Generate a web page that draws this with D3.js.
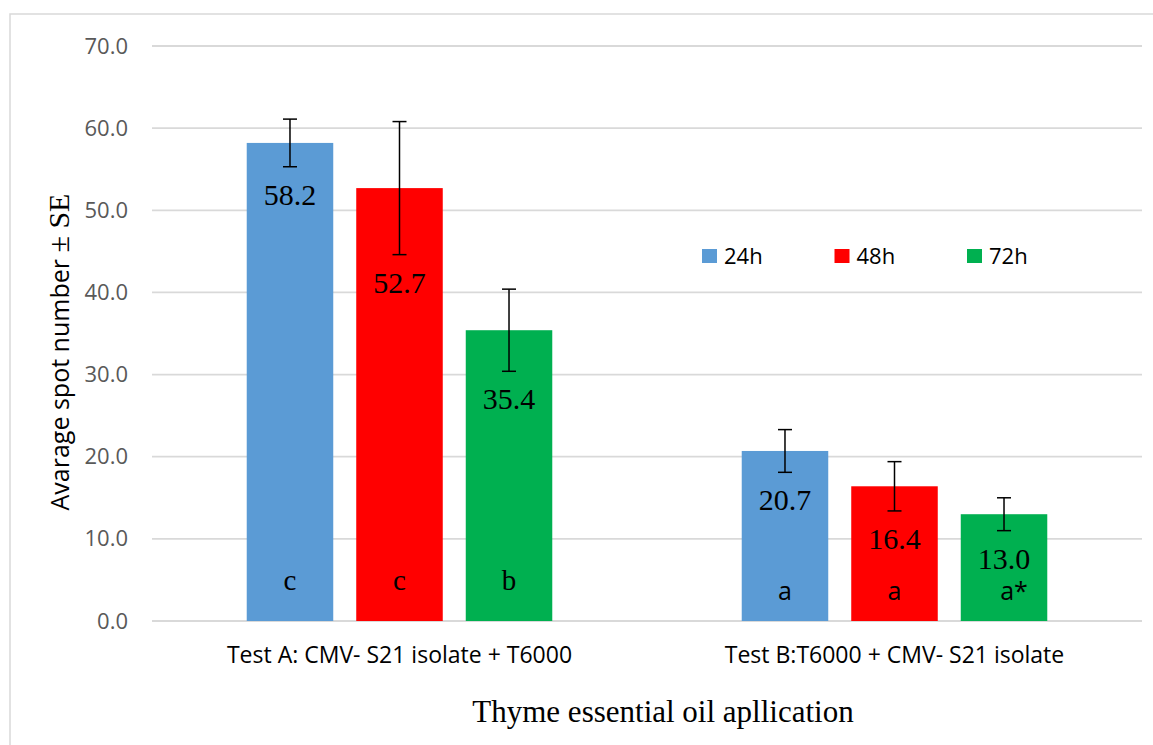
<!DOCTYPE html>
<meta charset="utf-8">
<style>
body{ margin:0; background:#fff; }
.grid line{ stroke:#d9d9d9; stroke-width:1.8px; }
.yaxis text{ font-family:"Open Sans"; font-size:22px; fill:#595959; }
.cat{ font-family:"Open Sans"; font-size:23px; fill:#000; text-anchor:middle; }
.val{ font-family:"Liberation Serif"; font-size:30px; fill:#000; text-anchor:middle; }
.err line{ stroke:#000; stroke-width:1.5px; }
.legend text{ font-family:"Open Sans"; font-size:22px; fill:#000; }
</style>
<body>
<div id="chart"></div>
<script src="https://d3js.org/d3.v7.min.js"></script>
<script>
// data
var groups = ["Test A: CMV- S21 isolate + T6000", "Test B:T6000 + CMV- S21 isolate"];
var series = ["24h", "48h", "72h"];
var colors = ["#5b9bd5", "#ff0000", "#00b050"];
var means = [[58.2, 52.7, 35.4], [20.7, 16.4, 13.0]];
var se = [[2.9, 8.1, 5.0], [2.6, 3.0, 2.0]];
var letters = [["c", "c", "b"], ["a", "a", "a*"]];
var yTicks = [0, 10, 20, 30, 40, 50, 60, 70];

var W = 1153, H = 745;
var plotL = 152, plotR = 1142, plotT = 46, plotB = 621;

var svg = d3.select("#chart").append("svg").attr("width", W).attr("height", H);

// chart area border
svg.append("rect").attr("x", 10).attr("y", 14).attr("width", 1160).attr("height", 760)
    .attr("fill", "none").attr("stroke", "#d9d9d9").attr("stroke-width", 1.5);

var y = d3.scaleLinear().domain([0, 70]).range([plotB, plotT]);
var x0 = d3.scaleBand().domain(groups).range([plotL, plotR]);
var x1 = d3.scaleBand().domain(series).range([0, x0.bandwidth()])
    .paddingInner(0.21).paddingOuter(0.865);

svg.append("g").attr("class", "grid").selectAll("line").data(yTicks).join("line")
    .attr("x1", plotL).attr("x2", plotR)
    .attr("y1", d => y(d)).attr("y2", d => y(d));

var yAxis = svg.append("g").attr("class", "yaxis").attr("transform", "translate(128,0)")
    .call(d3.axisLeft(y).tickValues(yTicks).tickFormat(d3.format(".1f")).tickSize(0).tickPadding(0));
yAxis.select(".domain").remove();

// bars
var cells = [];
groups.forEach(function(g, gi){
    series.forEach(function(s, si){
        cells.push({g: g, gi: gi, s: s, si: si, v: means[gi][si], e: se[gi][si], l: letters[gi][si]});
    });
});

var cell = svg.append("g").selectAll("g").data(cells).join("g")
    .attr("transform", d => "translate(" + (x0(d.g) + x1(d.s)) + ",0)");

cell.append("rect")
    .attr("y", d => y(d.v))
    .attr("width", x1.bandwidth())
    .attr("height", d => y(0) - y(d.v))
    .attr("fill", d => colors[d.si]);

var cx = x1.bandwidth() / 2;
var err = cell.append("g").attr("class", "err");
err.append("line").attr("x1", cx).attr("x2", cx)
    .attr("y1", d => y(d.v + d.e)).attr("y2", d => y(d.v - d.e));
err.append("line").attr("x1", cx - 7).attr("x2", cx + 7)
    .attr("y1", d => y(d.v + d.e)).attr("y2", d => y(d.v + d.e));
err.append("line").attr("x1", cx - 7).attr("x2", cx + 7)
    .attr("y1", d => y(d.v - d.e)).attr("y2", d => y(d.v - d.e));

cell.append("text").attr("class", "val")
    .attr("x", cx).attr("y", d => y(d.v - d.e) + 38)
    .text(d => d3.format(".1f")(d.v));

// significance letters
cell.append("text")
    .attr("x", d => d.l.length > 1 ? cx + 10 : cx)
    .attr("y", d => d.gi == 0 ? y(0) - 31 : y(0) - 21)
    .attr("text-anchor", "middle")
    .style("font-family", d => d.gi == 0 ? "Liberation Serif" : "Open Sans")
    .style("font-size", d => d.gi == 0 ? "29px" : "25px")
    .text(d => d.l);

// category labels
svg.append("g").selectAll("text").data(groups).join("text")
    .attr("class", "cat")
    .attr("x", d => x0(d) + x0.bandwidth() / 2)
    .attr("y", 663)
    .text(d => d);

// axis titles
svg.append("text").attr("x", 663).attr("y", 722).attr("text-anchor", "middle")
    .style("font-family", "Liberation Serif").style("font-size", "31px")
    .text("Thyme essential oil apllication");

var yt = svg.append("text").attr("transform", "translate(69,352) rotate(-90)")
    .attr("text-anchor", "middle");
yt.append("tspan").style("font-family", "Open Sans").style("font-size", "25px").text("Avarage spot number ");
yt.append("tspan").style("font-family", "Liberation Serif").style("font-size", "30px").text("± SE");

// legend
var lg = svg.append("g").attr("class", "legend").attr("transform", "translate(702,249)")
    .selectAll("g").data(series).join("g")
    .attr("transform", (d, i) => "translate(" + i * 132.5 + ",0)");
lg.append("rect").attr("width", 15).attr("height", 14).attr("fill", (d, i) => colors[i]);
lg.append("text").attr("x", 22).attr("y", 15).text(d => d);
</script>
</body>
